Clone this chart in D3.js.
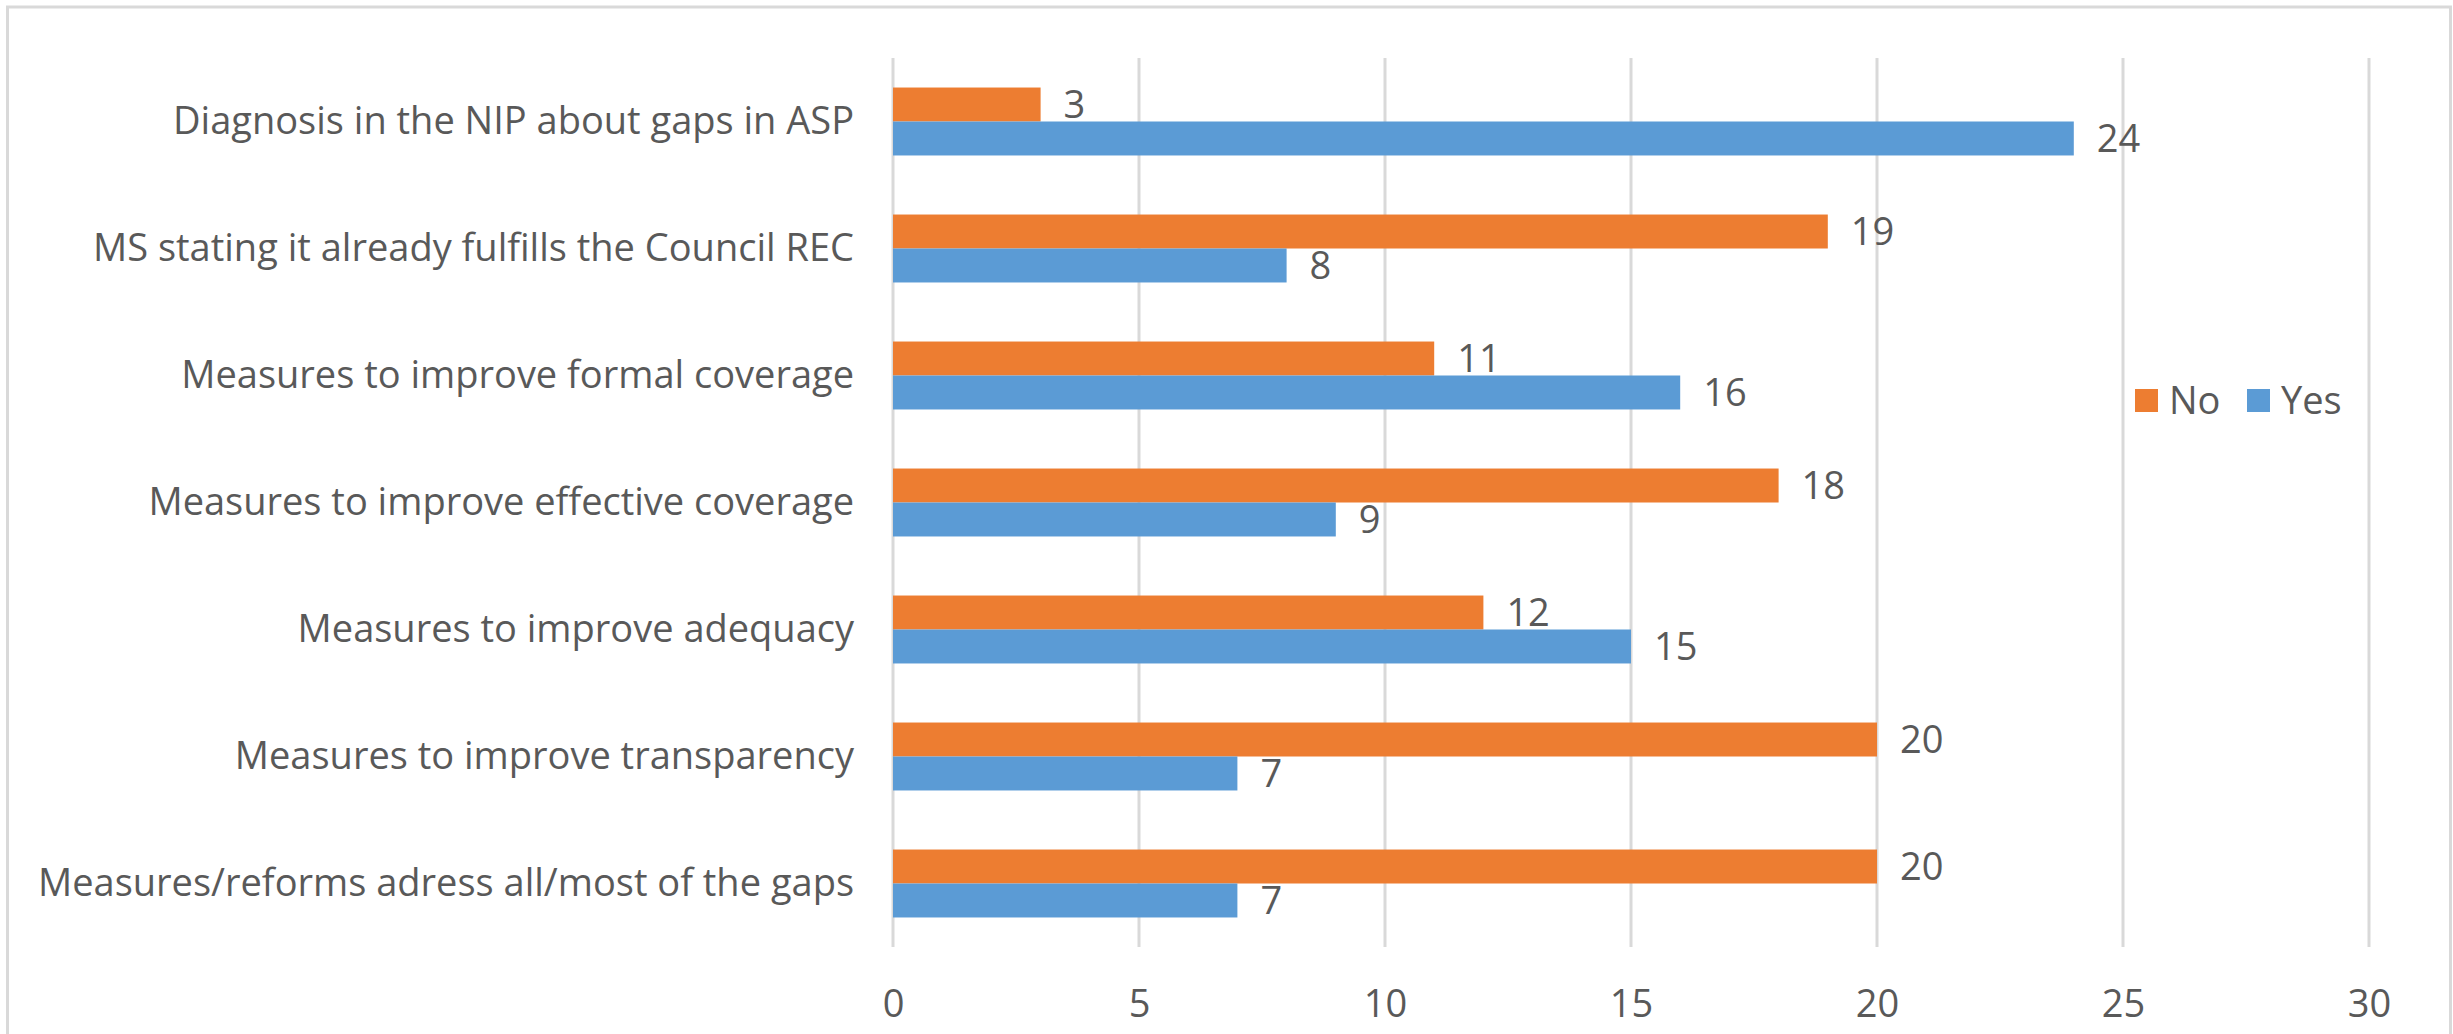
<!DOCTYPE html>
<meta charset="utf-8">
<style>
    body { margin: 0; background: #fff; }
    text { font-family: "Open Sans", "Noto Sans", sans-serif; fill: #595959; }
    .grid line { stroke: #d9d9d9; stroke-width: 3px; }
</style>
<title>No / Yes bar chart</title>

<body>
    <script src="https://d3js.org/d3.v7.min.js"></script>
    <script>
        var width = 2453, height = 1034;

        // data, top to bottom
        const categories = [
            'Diagnosis in the NIP about gaps in ASP',
            'MS stating it already fulfills the Council REC',
            'Measures to improve formal coverage',
            'Measures to improve effective coverage',
            'Measures to improve adequacy',
            'Measures to improve transparency',
            'Measures/reforms adress all/most of the gaps'
        ];
        const noValues  = [3, 19, 11, 18, 12, 20, 20];
        const yesValues = [24, 8, 16, 9, 15, 7, 7];
        const series = ['No', 'Yes'];
        const xTicks = [0, 5, 10, 15, 20, 25, 30];

        const colors = { No: '#ed7d31', Yes: '#5b9bd5' };
        const fontSize = 38;

        let rows = categories.map((c, i) => ({ cat: c, No: noValues[i], Yes: yesValues[i] }));

        let svg = d3.select('body').append('svg')
            .attr('width', width)
            .attr('height', height);

        // outer chart border (bottom edge runs off the picture)
        svg.append('rect')
            .attr('x', 7.5).attr('y', 7)
            .attr('width', 2443).attr('height', 1100)
            .attr('fill', 'none')
            .attr('stroke', '#d9d9d9')
            .attr('stroke-width', 3);

        let x = d3.scaleLinear().domain([0, 30]).range([893, 2369]);

        let y = d3.scaleBand().domain(categories).range([58, 947])
            .paddingInner(0.465).paddingOuter(0.2325);

        let ySub = d3.scaleBand().domain(series).range([0, y.bandwidth()]);

        // vertical gridlines
        svg.append('g').attr('class', 'grid')
            .selectAll('line')
            .data(xTicks)
            .enter().append('line')
            .attr('x1', d => x(d)).attr('x2', d => x(d))
            .attr('y1', 58).attr('y2', 947);

        // x tick labels
        let xAxis = svg.append('g')
            .attr('transform', 'translate(0,1017)')
            .call(d3.axisBottom(x).tickValues(xTicks).tickSize(0).tickPadding(0));
        xAxis.select('.domain').remove();
        xAxis.selectAll('text')
            .attr('dy', 0)
            .style('font-size', fontSize + 'px')
            .attr('fill', '#595959');
        xAxis.attr('font-family', null);

        // category labels
        let yAxis = svg.append('g')
            .attr('transform', 'translate(854,0)')
            .call(d3.axisLeft(y).tickSize(0).tickPadding(0));
        yAxis.select('.domain').remove();
        yAxis.attr('font-family', null);
        yAxis.selectAll('text')
            .style('font-size', fontSize + 'px')
            .attr('fill', '#595959');

        // bars
        let groups = svg.append('g')
            .selectAll('g')
            .data(rows)
            .enter().append('g')
            .attr('transform', d => `translate(0,${y(d.cat)})`);

        groups.selectAll('rect')
            .data(d => series.map(s => ({ key: s, value: d[s] })))
            .enter().append('rect')
            .attr('x', x(0))
            .attr('y', d => ySub(d.key))
            .attr('width', d => x(d.value) - x(0))
            .attr('height', ySub.bandwidth())
            .attr('fill', d => colors[d.key]);

        groups.selectAll('text')
            .data(d => series.map(s => ({ key: s, value: d[s] })))
            .enter().append('text')
            .attr('x', d => x(d.value) + 23)
            .attr('y', d => ySub(d.key) + ySub.bandwidth() / 2)
            .attr('dy', '0.35em')
            .style('font-size', fontSize + 'px')
            .text(d => d.value);

        // legend
        let legend = svg.append('g').attr('transform', 'translate(2135,389)');
        let legendX = { No: 0, Yes: 112 };
        let item = legend.selectAll('g')
            .data(series)
            .enter().append('g')
            .attr('transform', d => `translate(${legendX[d]},0)`);
        item.append('rect')
            .attr('width', 23).attr('height', 23)
            .attr('fill', d => colors[d]);
        item.append('text')
            .attr('x', 34).attr('y', 11.5)
            .attr('dy', '0.35em')
            .style('font-size', fontSize + 'px')
            .text(d => d);
    </script>
</body>
